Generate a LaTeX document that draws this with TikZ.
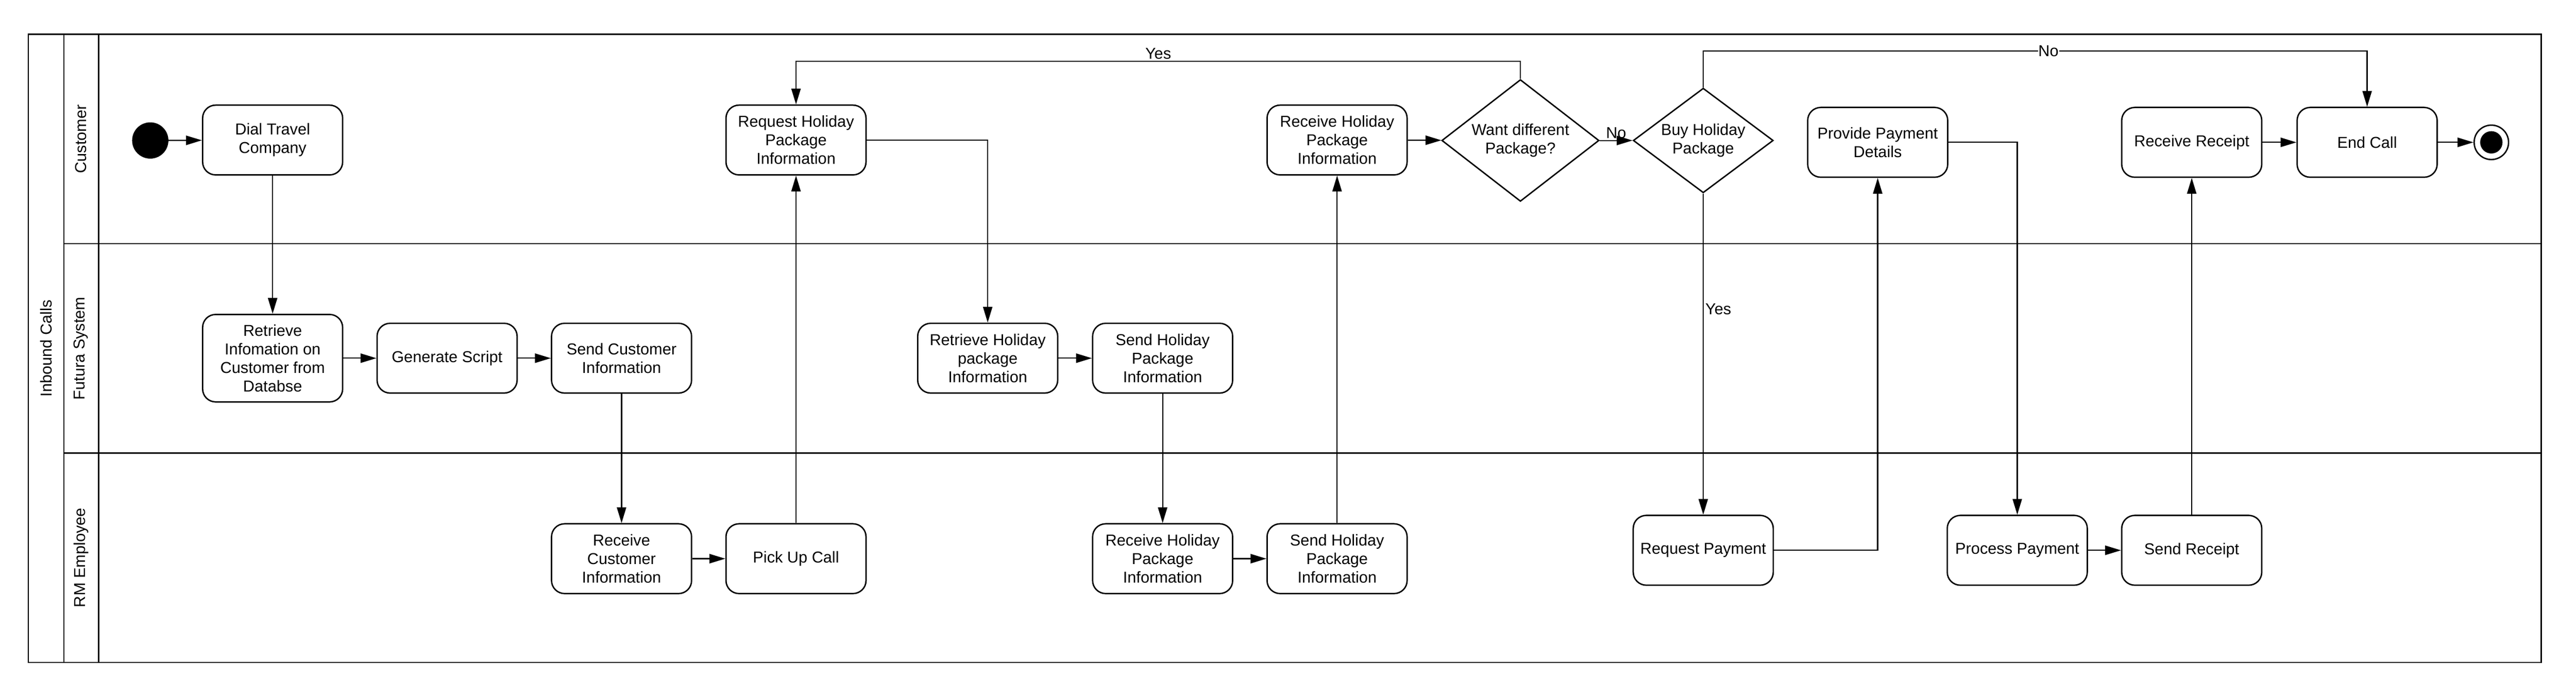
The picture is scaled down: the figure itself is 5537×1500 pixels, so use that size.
\documentclass[tikz,border=0pt]{standalone}
\usepackage{fontspec}
\setmainfont{Liberation Sans}
\usetikzlibrary{arrows.meta,shapes.geometric}

\begin{document}
\begin{tikzpicture}[x=1pt, y=-1pt,
        every node/.style={font=\fontsize{34}{40}\selectfont},
        act/.style={draw, line width=3pt, rounded corners=28pt, minimum width=301pt, minimum height=150pt, align=center, inner sep=2pt},
        dec/.style={draw, diamond, line width=3pt, align=center, inner sep=0pt},
        flow/.style={line width=2.5pt, -{Triangle[length=34pt,width=20pt]}},
        lane/.style={line width=2.5pt}]
        \useasboundingbox (0,0) rectangle (5537,1500);

        % pool and lanes
        \draw[line width=3pt] (61,74) rectangle (5462,1424);
        \draw[lane] (137,74) -- (137,1424);
        \draw[lane] (212,74) -- (212,1424);
        \draw[lane] (137,524) -- (5462,524);
        \draw[lane] (137,974) -- (5462,974);
        \node[rotate=90] (pool) at (99,749) {Inbound Calls};
        \foreach \n/\y/\t in {cust/299/Customer, futura/749/Futura System, rm/1199/RM Employee}
            \node[rotate=90] (lane\n) at (174,\y) {\t};

        % customer lane
        \node[circle, fill, inner sep=0pt, minimum size=78pt] (start) at (323,302) {};
        \node[act] (dial) at (586,301) {Dial Travel\\Company};
        \node[act] (reqhol) at (1711,301) {Request Holiday\\Package\\Information};
        \node[act] (recvhol) at (2874,301) {Receive Holiday\\Package\\Information};
        \node[dec, aspect=1.29, minimum width=338pt, minimum height=262pt] (want) at (3268,302) {Want different\\Package?};
        \node[dec, aspect=1.34, minimum width=301pt, minimum height=225pt] (buy) at (3661,302) {Buy Holiday\\Package};
        \node[act] (provide) at (4036,306) {Provide Payment\\Details};
        \node[act] (recvrec) at (4711,306) {Receive Receipt};
        \node[act] (endcall) at (5088,306) {End Call};
        \node[circle, draw, line width=3pt, inner sep=0pt, minimum size=74pt] (stop) at (5355,306) {};
        \fill (stop.center) circle (24);

        % futura system lane
        \node[act, minimum height=188pt] (retr) at (586,770) {Retrieve\\Infomation on\\Customer from\\Databse};
        \node[act] (gen) at (961,770) {Generate Script};
        \node[act] (sendci) at (1336,770) {Send Customer\\Information};
        \node[act] (retrhol) at (2123,770) {Retrieve Holiday\\package\\Information};
        \node[act] (sendhol) at (2499,770) {Send Holiday\\Package\\Information};

        % rm employee lane
        \node[act] (recvci) at (1336,1201) {Receive\\Customer\\Information};
        \node[act] (pick) at (1711,1201) {Pick Up Call};
        \node[act] (recvhol2) at (2499,1201) {Receive Holiday\\Package\\Information};
        \node[act] (sendhol2) at (2874,1201) {Send Holiday\\Package\\Information};
        \node[act] (reqpay) at (3661,1183) {Request Payment};
        \node[act] (procpay) at (4336,1183) {Process Payment};
        \node[act] (sendrec) at (4711,1183) {Send Receipt};

        \draw[flow] (start) -- (dial);
        \draw[flow] (dial) -- (retr);
        \draw[flow] (retr) -- (gen);
        \draw[flow] (gen) -- (sendci);
        \draw[flow] (sendci) -- (recvci);
        \draw[flow] (recvci) -- (pick);
        \draw[flow] (pick) -- (reqhol);
        \draw[flow] (reqhol.east) -| (retrhol.north);
        \draw[flow] (retrhol) -- (sendhol);
        \draw[flow] (sendhol) -- (recvhol2);
        \draw[flow] (recvhol2) -- (sendhol2);
        \draw[flow] (sendhol2) -- (recvhol);
        \draw[flow] (recvhol) -- (want);
        \draw[flow] (want) -- node[above] {No} (buy);
        \draw[flow] (want.north) -- ++(0,-38) -| node[pos=0.25, above] {Yes} (reqhol.north);
        \draw[flow] (buy.north) -- ++(0,-78) -| node[pos=0.26, fill=white, inner sep=1pt] {No} (endcall.north);
        \draw[flow] (buy.south) -- node[pos=0.36, right] {Yes} (reqpay.north);
        \draw[flow] (reqpay.east) -| (provide.south);
        \draw[flow] (provide.east) -| (procpay.north);
        \draw[flow] (procpay) -- (sendrec);
        \draw[flow] (sendrec) -- (recvrec);
        \draw[flow] (recvrec) -- (endcall);
        \draw[flow] (endcall) -- (stop);
    \end{tikzpicture}
\end{document}
